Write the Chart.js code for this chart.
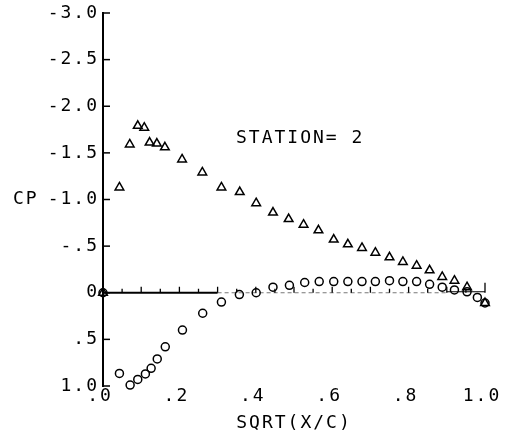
<!DOCTYPE html>
<html>
<head>
<meta charset="utf-8">
<script src="https://cdn.jsdelivr.net/npm/chart.js@4/dist/chart.umd.min.js"></script>
<style>
  html, body { margin: 0; padding: 0; background: #fff; }
  #c { display: block; }
</style>
</head>
<body>
<canvas id="c" width="520" height="439"></canvas>
<script>
// ---- data ----
const upperX  = [0, 0.043, 0.070, 0.091, 0.108, 0.122, 0.141, 0.162, 0.207, 0.260, 0.310, 0.358, 0.401, 0.445, 0.486, 0.525, 0.564, 0.604, 0.641, 0.678, 0.713, 0.750, 0.785, 0.821, 0.855, 0.888, 0.920, 0.953, 1.0];
const upperCp = [0, -1.13, -1.59, -1.79, -1.77, -1.61, -1.60, -1.56, -1.43, -1.29, -1.13, -1.08, -0.96, -0.86, -0.79, -0.73, -0.67, -0.57, -0.52, -0.48, -0.43, -0.38, -0.33, -0.29, -0.24, -0.17, -0.13, -0.06, 0.11];
const lowerX  = [0, 0.043, 0.071, 0.091, 0.111, 0.126, 0.142, 0.163, 0.208, 0.261, 0.310, 0.357, 0.401, 0.445, 0.488, 0.528, 0.566, 0.604, 0.641, 0.678, 0.713, 0.750, 0.785, 0.821, 0.855, 0.888, 0.920, 0.953, 0.980, 1.0];
const lowerCp = [0, 0.865, 0.99, 0.93, 0.87, 0.81, 0.71, 0.58, 0.40, 0.22, 0.10, 0.02, 0.00, -0.06, -0.08, -0.11, -0.12, -0.12, -0.12, -0.12, -0.12, -0.13, -0.12, -0.12, -0.09, -0.06, -0.03, -0.01, 0.05, 0.11];

const xTickValues = [0, 0.2, 0.4, 0.6, 0.8, 1.0];
const xTickLabels = ['.0', '.2', '.4', '.6', '.8', '1.0'];
const yTickValues = [-3.0, -2.5, -2.0, -1.5, -1.0, -0.5, 0, 0.5, 1.0];
const yTickLabels = ['-3.0', '-2.5', '-2.0', '-1.5', '-1.0', '-.5', '0', '.5', '1.0'];
const xTitle = 'SQRT(X/C)';
const yTitle = 'CP';
const stationText = 'STATION= 2';

const FONT_FAMILY = "'DejaVu Sans Mono', 'Liberation Mono', monospace";
const FONT = { family: FONT_FAMILY, size: 18, lineHeight: 1 };
const SPACING = '2px';

Chart.defaults.color = '#000';

const toPts = (xs, ys) => xs.map((x, i) => ({ x: x, y: ys[i] }));
const labelFor = (vals, labels, v) => {
  let best = 0;
  vals.forEach((t, i) => { if (Math.abs(t - v) < Math.abs(vals[best] - v)) best = i; });
  return labels[best];
};

const spacingPlugin = {
  id: 'spacing',
  beforeUpdate(chart) { chart.ctx.letterSpacing = SPACING; },
  beforeLayout(chart) { chart.ctx.letterSpacing = SPACING; },
  beforeDraw(chart) { chart.ctx.letterSpacing = SPACING; }
};

const axesPlugin = {
  id: 'plotterAxes',
  beforeDatasetsDraw(chart) {
    const ctx = chart.ctx;
    const xs = chart.scales.x, ys = chart.scales.y;
    const left = chart.chartArea.left;
    ctx.save();
    ctx.strokeStyle = '#000';
    // inward y ticks
    ctx.lineWidth = 1.5;
    ys.ticks.forEach(t => {
      const py = ys.getPixelForValue(t.value);
      ctx.beginPath();
      ctx.moveTo(left, py);
      ctx.lineTo(left + 7, py);
      ctx.stroke();
    });
    // x axis along CP = 0
    const y0 = ys.getPixelForValue(0);
    ctx.lineWidth = 2;
    ctx.beginPath();
    ctx.moveTo(xs.getPixelForValue(0), y0);
    ctx.lineTo(xs.getPixelForValue(0.3), y0);
    ctx.stroke();
    ctx.lineWidth = 1;
    ctx.strokeStyle = '#777';
    ctx.setLineDash([4, 3]);
    ctx.beginPath();
    ctx.moveTo(xs.getPixelForValue(0.3), y0);
    ctx.lineTo(xs.getPixelForValue(0.9), y0);
    ctx.stroke();
    ctx.setLineDash([]);
    ctx.strokeStyle = '#000';
    ctx.beginPath();
    ctx.moveTo(xs.getPixelForValue(0.9), y0 - 1);
    ctx.lineTo(xs.getPixelForValue(1.0), y0 - 1);
    ctx.stroke();
    // upward x ticks every 0.05
    ctx.lineWidth = 1.3;
    for (let k = 1; k <= 20; k++) {
      const v = k / 20;
      const px = xs.getPixelForValue(v);
      const len = (k === 20) ? 10 : (k % 2 === 0 ? 6 : 4);
      ctx.beginPath();
      ctx.moveTo(px, y0);
      ctx.lineTo(px, y0 - len);
      ctx.stroke();
    }
    ctx.restore();
  },
  afterDraw(chart) {
    const ctx = chart.ctx;
    const ys = chart.scales.y;
    ctx.save();
    ctx.letterSpacing = SPACING;
    ctx.fillStyle = '#000';
    ctx.font = "18px " + FONT_FAMILY;
    ctx.textBaseline = 'middle';
    ctx.textAlign = 'left';
    ctx.fillText(yTitle, 13, ys.getPixelForValue(-1.0));
    ctx.fillText(stationText, 236, 138);
    ctx.restore();
  }
};

new Chart(document.getElementById('c'), {
  type: 'scatter',
  data: {
    datasets: [
      {
        label: 'upper',
        data: toPts(upperX, upperCp),
        pointStyle: 'triangle',
        pointRadius: 5,
        pointBorderWidth: 1.5,
        borderColor: '#000',
        backgroundColor: 'rgba(0,0,0,0)',
        showLine: false,
        clip: false
      },
      {
        label: 'lower',
        data: toPts(lowerX, lowerCp),
        pointStyle: 'circle',
        pointRadius: 4,
        pointBorderWidth: 1.5,
        borderColor: '#000',
        backgroundColor: 'rgba(0,0,0,0)',
        showLine: false,
        clip: false
      }
    ]
  },
  options: {
    responsive: false,
    animation: false,
    events: [],
    layout: { padding: { top: 10, right: 35, left: 0, bottom: 0 } },
    plugins: { legend: { display: false }, tooltip: { enabled: false } },
    scales: {
      x: {
        type: 'linear', min: 0, max: 1, position: 'bottom',
        grid: { display: false, drawTicks: false },
        border: { display: false },
        ticks: {
          stepSize: 0.2, autoSkip: false, maxRotation: 0,
          padding: 1, labelOffset: -3,
          font: FONT, color: '#000',
          callback: (v) => labelFor(xTickValues, xTickLabels, v)
        },
        title: { display: true, text: xTitle, font: FONT, color: '#000', padding: { top: 0, bottom: 7 } },
        afterFit: s => { s.height = 53; }
      },
      y: {
        type: 'linear', min: -3, max: 1, reverse: true,
        grid: { display: false, drawTicks: false },
        border: { display: true, color: '#000', width: 2 },
        ticks: {
          stepSize: 0.5, autoSkip: false,
          padding: 4,
          font: FONT, color: '#000',
          callback: (v) => labelFor(yTickValues, yTickLabels, v)
        },
        afterFit: s => { s.width = 103; }
      }
    }
  },
  plugins: [spacingPlugin, axesPlugin]
});
</script>
</body>
</html>
